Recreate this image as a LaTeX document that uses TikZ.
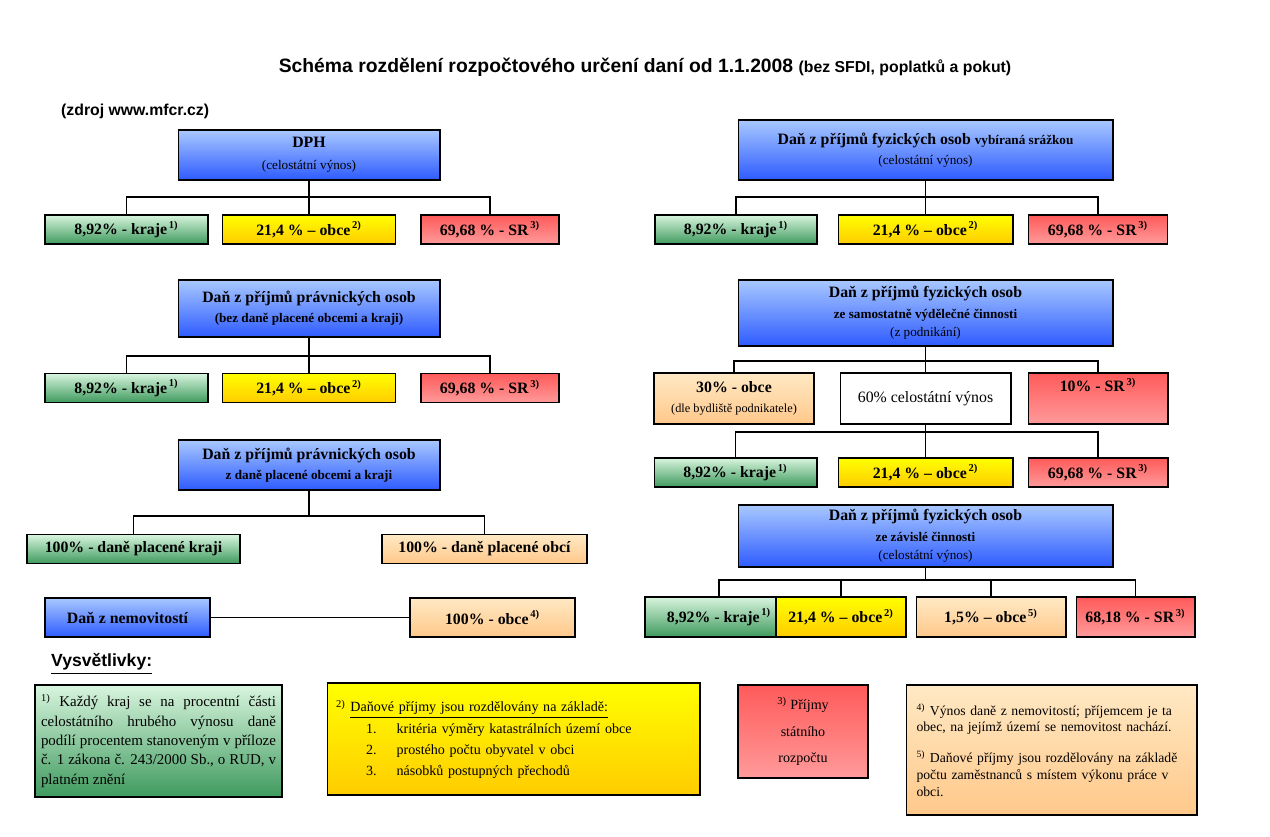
\documentclass[tikz,border=0pt]{standalone}
\usepackage{fontspec}
\setmainfont{Liberation Serif}
\setsansfont{Liberation Sans}
\definecolor{blueT}{HTML}{A8C8FF}
\definecolor{blueB}{HTML}{2E5BFF}
\definecolor{greenT}{HTML}{D8F5DE}
\definecolor{greenB}{HTML}{3F9A5E}
\definecolor{yelT}{HTML}{FFFF00}
\definecolor{yelB}{HTML}{FFCC00}
\definecolor{redT}{HTML}{FF5A5A}
\definecolor{redB}{HTML}{FF9A9A}
\definecolor{peachT}{HTML}{FFE9C4}
\definecolor{peachB}{HTML}{FFC88A}
\tikzset{
  box/.style={rectangle, draw=black, line width=0.6pt, align=center, inner sep=1pt,
    font=\fontsize{9}{10.5}\selectfont\bfseries},
  tax/.style={box, top color=blueT, bottom color=blueB},
  kraj/.style={box, top color=greenT, bottom color=greenB},
  obec/.style={box, top color=yelT, bottom color=yelB},
  stat/.style={box, top color=redT, bottom color=redB},
  mesto/.style={box, top color=peachT, bottom color=peachB},
  small/.style={minimum width=#1, minimum height=0.58cm},
  line/.style={draw=black, line width=0.6pt}
}
\newcommand{\sx}[1]{\textsuperscript{\,#1)}}
\newcommand{\sub}{\fontsize{7.5}{9}\selectfont}
\begin{document}
\begin{tikzpicture}[x=0.02cm, y=-0.02cm]
\useasboundingbox (0,0) rectangle (1270,837);

\node(title) at (645,67) {\sffamily\bfseries\fontsize{11}{13}\selectfont Schéma rozdělení rozpočtového určení daní od 1.1.2008 {\fontsize{9}{11}\selectfont (bez SFDI, poplatků a pokut)}};
\node(zdroj)[anchor=west] at (55,111) {\sffamily\bfseries\fontsize{9}{11}\selectfont (zdroj www.mfcr.cz)};

% DPH
\node(dph)[tax, minimum width=5.24cm, minimum height=1cm] at (309,155) {DPH\\[2pt]{\sub\mdseries (celostátní výnos)}};
\node(dph-k)[kraj, small=3.26cm] at (126.5,229.5) {8,92\% - kraje\sx{1}};
\node(dph-o)[obec, small=3.46cm] at (309,229.5) {21,4 \% – obce\sx{2}};
\node(dph-s)[stat, small=2.76cm] at (490,229.5) {69,68 \% - SR\sx{3}};
\coordinate(dph-b) at (309,197);
\draw[line] (dph) -- (dph-b);
\draw[line] (dph-k.north) |- (dph-b) -| (dph-s.north);
\draw[line] (dph-b) -- (dph-o);

% DPPO
\node(ppo)[tax, minimum width=5.24cm, minimum height=1.14cm] at (309,308.5) {Daň z příjmů právnických osob\\[1pt]{\sub (bez daně placené obcemi a kraji)}};
\node(ppo-k)[kraj, small=3.26cm] at (126.5,388) {8,92\% - kraje\sx{1}};
\node(ppo-o)[obec, small=3.46cm] at (309,388) {21,4 \% – obce\sx{2}};
\node(ppo-s)[stat, small=2.76cm] at (490,388) {69,68 \% - SR\sx{3}};
\coordinate(ppo-b) at (309,356);
\draw[line] (ppo) -- (ppo-b);
\draw[line] (ppo-k.north) |- (ppo-b) -| (ppo-s.north);
\draw[line] (ppo-b) -- (ppo-o);

% DPPO obce a kraje
\node(ppk)[tax, minimum width=5.24cm, minimum height=1cm] at (309,465) {Daň z příjmů právnických osob\\[1pt]{\sub z daně placené obcemi a kraji}};
\node(ppk-k)[kraj, small=4.26cm] at (133.5,549) {100\% - daně placené kraji};
\node(ppk-o)[mesto, small=4.1cm] at (484.5,549) {100\% - daně placené obcí};
\coordinate(ppk-b) at (309,516);
\draw[line] (ppk) -- (ppk-b);
\draw[line] (ppk-k.north) |- (ppk-b) -| (ppk-o.north);

% nemovitosti
\node(nem)[tax, minimum width=3.3cm, minimum height=0.78cm] at (127.5,617.5) {Daň z nemovitostí};
\node(nem-o)[mesto, minimum width=3.3cm, minimum height=0.78cm] at (492.5,617.5) {100\% - obce\sx{4}};
\draw[line] (nem) -- (nem-o);

% DPFO srazkou
\node(fos)[tax, minimum width=7.5cm, minimum height=1.2cm] at (925.5,150) {Daň z příjmů fyzických osob {\sub vybíraná srážkou}\\[1pt]{\sub\mdseries (celostátní výnos)}};
\node(fos-k)[kraj, small=3.24cm] at (736,229.5) {8,92\% - kraje\sx{1}};
\node(fos-o)[obec, small=3.5cm] at (925.5,229.5) {21,4 \% – obce\sx{2}};
\node(fos-s)[stat, small=2.78cm] at (1098,229.5) {69,68 \% - SR\sx{3}};
\coordinate(fos-b) at (925.5,197);
\draw[line] (fos) -- (fos-b);
\draw[line] (fos-k.north) |- (fos-b) -| (fos-s.north);
\draw[line] (fos-b) -- (fos-o);

% DPFO podnikani
\node(fop)[tax, minimum width=7.5cm, minimum height=1.32cm] at (925.5,313) {Daň z příjmů fyzických osob\\[1pt]{\sub ze samostatně výdělečné činnosti}\\{\sub\mdseries (z podnikání)}};
\node(fop-o)[mesto, minimum width=3.2cm, minimum height=1.02cm] at (734,398.5) {30\% - obce\\[1pt]{\fontsize{7}{8.5}\selectfont\mdseries (dle bydliště podnikatele)}};
\node(fop-c)[box, fill=white, minimum width=3.42cm, minimum height=1.02cm, font=\fontsize{9}{10.5}\selectfont] at (925.5,398.5) {60\% celostátní výnos};
\node(fop-s)[stat, minimum width=2.8cm, minimum height=1.02cm, text depth=0.55cm] at (1098,398.5) {10\% - SR\sx{3}};
\coordinate(fop-b) at (925.5,361);
\draw[line] (fop) -- (fop-b);
\draw[line] (fop-o.north) |- (fop-b) -| (fop-s.north);
\draw[line] (fop-b) -- (fop-c);
\node(fop-k)[kraj, small=3.26cm] at (735.5,472.5) {8,92\% - kraje\sx{1}};
\node(fop-y)[obec, small=3.5cm] at (925.5,472.5) {21,4 \% – obce\sx{2}};
\node(fop-r)[stat, small=2.8cm] at (1098,472.5) {69,68 \% - SR\sx{3}};
\coordinate(fop-c-b) at (925.5,432);
\draw[line] (fop-c) -- (fop-c-b);
\draw[line] (fop-k.north) |- (fop-c-b) -| (fop-r.north);
\draw[line] (fop-c-b) -- (fop-y);

% DPFO zavisla cinnost
\node(foz)[tax, minimum width=7.5cm, minimum height=1.24cm] at (925.5,536) {Daň z příjmů fyzických osob\\[1pt]{\sub ze závislé činnosti}\\{\sub\mdseries (celostátní výnos)}};
\node(foz-k)[kraj, minimum width=2.96cm, minimum height=0.8cm] at (719,617) {8,92\% - kraje\sx{1}};
\node(foz-o)[obec, minimum width=2.6cm, minimum height=0.8cm] at (841,617) {21,4 \% – obce\sx{2}};
\node(foz-p)[mesto, minimum width=3cm, minimum height=0.8cm] at (991,617) {1,5\% – obce\sx{5}};
\node(foz-s)[stat, minimum width=2.38cm, minimum height=0.8cm] at (1135.5,617) {68,18 \% - SR\sx{3}};
\coordinate(foz-b) at (925.5,580);
\draw[line] (foz) -- (foz-b);
\draw[line] (foz-k.north) |- (foz-b) -| (foz-s.north);
\draw[line] (foz-o.north) |- (foz-b);
\draw[line] (foz-p.north) |- (foz-b);

% vysvetlivky
\node(vys)[anchor=west] at (45,664) {\sffamily\bfseries\fontsize{10}{12}\selectfont\underline{Vysvětlivky:}};
\node(leg-k)[box, top color=greenT, bottom color=greenB, minimum width=4.94cm, minimum height=2.24cm, text width=4.7cm, align=justify, font=\fontsize{8.5}{11}\selectfont] at (158.5,741) {\textsuperscript{1)} Každý kraj se na procentní části celostátního hrubého výnosu daně podílí procentem stanoveným v příloze č. 1 zákona č. 243/2000 Sb., o RUD, v platném znění};
\node(leg-o)[box, top color=yelT, bottom color=yelB, minimum width=7.46cm, minimum height=2.24cm, text width=7.1cm, align=left, font=\fontsize{8}{12}\selectfont] at (513.5,739) {\textsuperscript{2)} \underline{Daňové příjmy jsou rozdělovány na základě:}\\
\hspace*{0.6cm}1.\hspace{0.4cm}kritéria výměry katastrálních území obce\\
\hspace*{0.6cm}2.\hspace{0.4cm}prostého počtu obyvatel v obci\\
\hspace*{0.6cm}3.\hspace{0.4cm}násobků postupných přechodů\\[4pt]};
\node(leg-s)[box, top color=redT, bottom color=redB, minimum width=2.6cm, minimum height=1.86cm, font=\fontsize{8}{15}\selectfont] at (803,731.5) {\textsuperscript{3)} Příjmy\\státního\\rozpočtu};
\node(leg-m)[box, top color=peachT, bottom color=peachB, minimum width=5.82cm, minimum height=2.6cm, text width=5.4cm, align=left, font=\fontsize{7.8}{9.5}\selectfont] at (1051.5,750) {\textsuperscript{4)} Výnos daně z nemovitostí; příjemcem je ta obec, na jejímž území se nemovitost nachází.\\[8pt]
\textsuperscript{5)} Daňové příjmy jsou rozdělovány na základě počtu zaměstnanců s místem výkonu práce v obci.};
\end{tikzpicture}
\end{document}
